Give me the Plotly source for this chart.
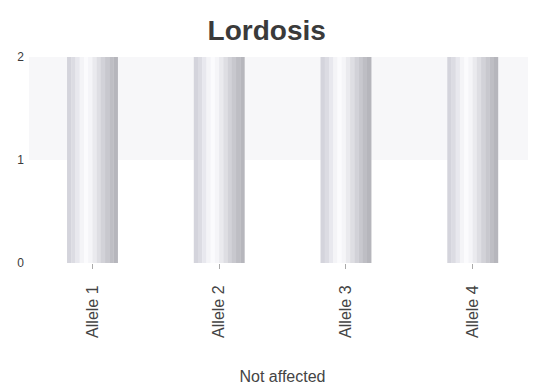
import plotly.graph_objects as go

categories = ["Allele 1", "Allele 2", "Allele 3", "Allele 4"]
values = [2, 2, 2, 2]
y_ticks = [0, 1, 2]
title_text = "Lordosis"
x_title = "Not affected"

# horizontal gradient across each bar (left light gray -> white -> darker gray)
grad_colors = ["#d4d4dc", "#dcdce3", "#e8e8ee", "#f4f4f7", "#fbfbfd", "#f5f5f8",
               "#eaeaee", "#dedee3", "#d2d2d8", "#c8c8ce", "#bebec4", "#b6b6bc"]
bar_width = 0.4
n = len(grad_colors)
sw = bar_width / n

fig = go.Figure()
for i, c in enumerate(grad_colors):
    fig.add_trace(go.Bar(
        x=categories, y=values,
        width=sw * 1.05, offset=-bar_width / 2 + i * sw,
        marker=dict(color=c, line=dict(width=0)),
        showlegend=False, hoverinfo="x+y",
    ))

fig.add_shape(type="rect", xref="paper", yref="y", x0=0, x1=1, y0=1, y1=2,
              fillcolor="#f7f7f9", line=dict(width=0), layer="below")

fig.update_layout(
    width=528, height=379,
    margin=dict(l=21, r=0, t=49, b=124),
    barmode="overlay",
    paper_bgcolor="white", plot_bgcolor="white",
    font=dict(family="Liberation Sans, Arial, sans-serif", color="#3a3a3a"),
    title=dict(text="<b>" + title_text + "</b>", x=0.49, xanchor="center",
               y=0.942, yanchor="middle", font=dict(size=28, color="#3a3a3a")),
    xaxis=dict(
        type="category", showgrid=False, zeroline=False, showline=False,
        ticks="outside", ticklen=5, tickcolor="#aaaaaa",
        tickangle=-90, tickfont=dict(size=16, color="#444444"),
        ticklabelstandoff=10, automargin=False,
        title=dict(text=x_title, font=dict(size=16, color="#444444"), standoff=33),
    ),
    yaxis=dict(
        range=[0, 2], tickvals=y_ticks, showgrid=False, zeroline=False,
        showline=False, ticks="", tickfont=dict(size=12, color="#3a3a3a"),
        ticklabelstandoff=4, automargin=False,
    ),
)

fig.write_html("out.html")
